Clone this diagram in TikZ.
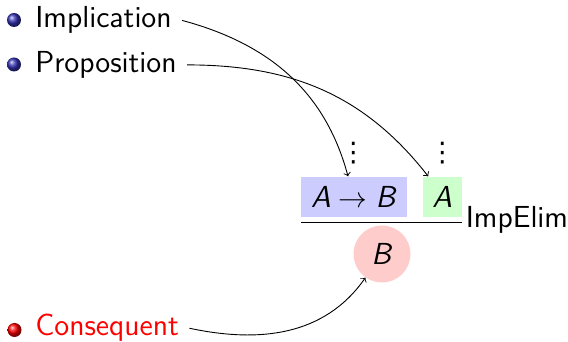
\documentclass[tikz,border=0pt]{standalone}
\usepackage{fontspec}
\newfontfamily\djv{DejaVu Sans}
\definecolor{bblue}{rgb}{0.2,0.2,0.7}
\definecolor{pblue}{rgb}{0.8,0.8,1}
\definecolor{pgreen}{rgb}{0.8,1,0.8}
\definecolor{pred}{rgb}{1,0.8,0.8}
\begin{document}
\begin{tikzpicture}[x=0.5pt,y=0.5pt,
  font=\sffamily\fontsize{15.2}{18}\selectfont,
  bul/.style={circle, inner sep=0pt, minimum size=7pt, ball color=#1},
  lbl/.style={anchor=base west, inner ysep=0pt, inner xsep=5pt},
  conn/.style={->, line width=0.45pt},
  prem/.style={inner sep=0pt, minimum height=20pt},
  dots/.style={anchor=base, inner sep=0pt, font=\djv\fontsize{13.5}{16}\selectfont}]
\useasboundingbox (0,0) rectangle (568,342);
% list
\node[bul=bblue] (b1) at (14,322) {};
\node[lbl] (impl) at (25,314) {Implication};
\node[bul=bblue] (b2) at (14,277.5) {};
\node[lbl] (prop) at (25,269.5) {Proposition};
\node[bul=red] (b3) at (14.5,12) {};
\node[lbl, text=red] (cons) at (25,6) {Consequent};
% inference
\node[prem, fill=pblue, minimum width=53pt] (maj) at (354,145.3) {\textsl{A}$\;\to\;$\textsl{B}};
\node[prem, fill=pgreen, minimum width=19.5pt] (mnr) at (442.2,145.3) {\textsl{A}};
\node[dots] (d1) at (353.3,180) {⋮};
\node[dots] (d2) at (442.3,180) {⋮};
\coordinate (barl) at (301,119.7);
\coordinate (barr) at (462,119.7);
\draw[line width=0.6pt] (barl) -- (barr);
\node[anchor=base west, inner sep=0pt] (rule) at (465.5,114) {ImpElim};
\node[circle, fill=pred, inner sep=0pt, minimum size=28.5pt] (concl) at (382,88) {\textsl{B}};
% connectors
\coordinate (t1) at ([xshift=-3pt]maj.north);
\coordinate (t2) at ([xshift=-7pt]mnr.north);
\draw[conn] (impl.east) to[out=-15,in=105] (t1);
\draw[conn] (prop.east) to[out=0,in=128] (t2);
\draw[conn] (cons.east) to[out=-12,in=-125] (concl);
\end{tikzpicture}
\end{document}
